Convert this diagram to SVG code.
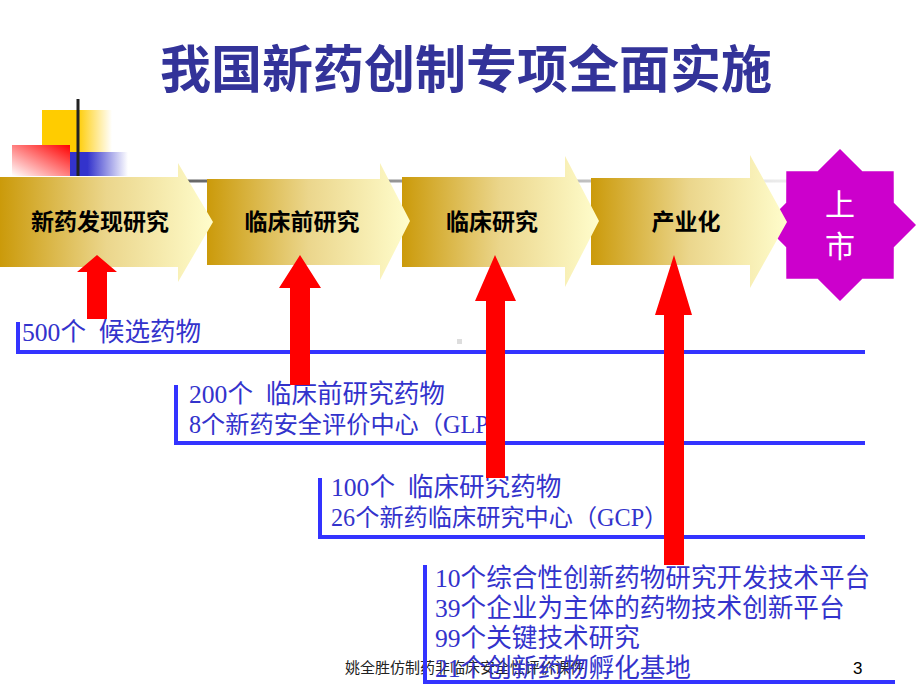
<svg xmlns="http://www.w3.org/2000/svg" width="920" height="690" viewBox="0 0 920 690">
<defs>
<linearGradient id="gold" x1="0" y1="0" x2="1" y2="0">
<stop offset="0" stop-color="#CB9A0A"/>
<stop offset="0.5" stop-color="#EBD68C"/>
<stop offset="1" stop-color="#FFFDCC"/>
</linearGradient>
<linearGradient id="gYel" x1="0" y1="0" x2="1" y2="0">
<stop offset="0" stop-color="#FFCC00"/>
<stop offset="0.5" stop-color="#FFCC00"/>
<stop offset="1" stop-color="#FFFFFF"/>
</linearGradient>
<linearGradient id="gRed" x1="0" y1="1" x2="1" y2="0">
<stop offset="0" stop-color="#FFFFFF"/>
<stop offset="1" stop-color="#FF0000"/>
</linearGradient>
<linearGradient id="gBlue" x1="0" y1="0" x2="1" y2="0">
<stop offset="0" stop-color="#3333CC"/>
<stop offset="0.3" stop-color="#3333CC"/>
<stop offset="1" stop-color="#FFFFFF"/>
</linearGradient>
<linearGradient id="gGray" x1="0" y1="0" x2="1" y2="0">
<stop offset="0" stop-color="#666666"/>
<stop offset="1" stop-color="#F0F0F0"/>
</linearGradient>
<style>
.title{font-family:"Noto Sans CJK SC",sans-serif;font-weight:700;font-size:51px;fill:#333399;text-anchor:middle}
.stage{fill:url(#gold)}
.slabel{font-family:"Noto Sans CJK SC",sans-serif;font-weight:700;font-size:23px;fill:#000;text-anchor:middle}
.star{fill:#CC00CC}
.startxt{font-family:"Noto Sans CJK SC",sans-serif;font-size:30px;fill:#FFFFFF;text-anchor:middle}
.up{fill:#FF0000}
.br{fill:none;stroke:#3333FF;stroke-width:4}
.info{font-family:"Liberation Serif","Noto Sans CJK SC",serif;font-size:25.6px;fill:#3333CC}
.info2{font-size:24.2px}
.foot{font-family:"Noto Sans CJK SC",sans-serif;font-size:15px;fill:#222}
</style>
</defs>
<rect width="920" height="690" fill="#FFFFFF"/>

<g id="footer">
<text class="foot" x="345" y="673">姚全胜仿制药非临床安全性评价课件</text>
<text x="853" y="674" font-family="Liberation Sans,sans-serif" font-size="17" fill="#000">3</text>
</g>

<g id="title"><text class="title" x="466" y="88">我国新药创制专项全面实施</text></g>

<g id="decor">
<rect x="42" y="110" width="70" height="42" fill="url(#gYel)"/>
<rect x="12" y="145" width="58" height="31" fill="url(#gRed)"/>
<rect x="70" y="152" width="58" height="24" fill="url(#gBlue)"/>
<rect x="76.5" y="99" width="3" height="77" fill="#222"/>
<rect x="186" y="179.5" width="614" height="3" fill="url(#gGray)"/>
<rect x="457" y="339" width="5" height="5" fill="#DDDDDD"/>
</g>

<g id="market">
<path class="star" d="M916,225 L893.8,247.3 L893.7,278.7 L862.3,278.8 L840,301 L817.7,278.8 L786.3,278.7 L786.2,247.3 L764,225 L786.2,202.7 L786.3,171.3 L817.7,171.2 L840,149 L862.3,171.2 L893.7,171.3 L893.8,202.7 Z"/>
<text class="startxt" x="840" y="215">上</text>
<text class="startxt" x="840" y="257">市</text>
</g>

<g id="stage4">
<path class="stage" d="M591,178 H750 V155 L787,222 L750,288 V265 H591 Z"/>
<text class="slabel" x="686" y="230">产业化</text>
</g>
<g id="stage3">
<path class="stage" d="M402,177 H565 V156 L599,221 L565,287 V267 H402 Z"/>
<text class="slabel" x="492" y="230">临床研究</text>
</g>
<g id="stage2">
<path class="stage" d="M207,179 H380 V163 L410,221 L380,280 V265 H207 Z"/>
<text class="slabel" x="302" y="230">临床前研究</text>
</g>
<g id="stage1">
<path class="stage" d="M0,177 H178 V163 L213,222 L178,282 V267 H0 Z"/>
<text class="slabel" x="100" y="230">新药发现研究</text>
</g>

<g id="level1">
<text class="info" x="22" y="341" xml:space="preserve">500个  候选药物</text>
</g>
<g id="level2">
<text class="info" x="189" y="403" xml:space="preserve">200个  临床前研究药物</text>
<text class="info info2" x="189" y="433">8个新药安全评价中心（GLP）</text>
</g>
<g id="level3">
<text class="info" x="331" y="496" xml:space="preserve">100个  临床研究药物</text>
<text class="info info2" x="331" y="526">26个新药临床研究中心（GCP）</text>
</g>
<g id="level4">
<text class="info" x="435" y="587">10个综合性创新药物研究开发技术平台</text>
<text class="info" x="435" y="617">39个企业为主体的药物技术创新平台</text>
<text class="info" x="435" y="647">99个关键技术研究</text>
<text class="info" x="435" y="677">21个创新药物孵化基地</text>
</g>

<g id="connectors">
<path class="br" d="M18,322 V352 H865"/>
<path class="br" d="M176,385 V443 H865"/>
<path class="br" d="M320,478 V537 H865"/>
<path class="br" d="M425,565 V682 H895"/>
<path class="up" d="M97,255 L117,272 H107 V319 H87 V272 H77 Z"/>
<path class="up" d="M300,255 L321,288 H310 V385 H290 V288 H279 Z"/>
<path class="up" d="M495,255 L516,301 H505 V478 H486 V301 H475 Z"/>
<path class="up" d="M674,255 L692,315 H684 V565 H664 V315 H655 Z"/>
</g>
</svg>
